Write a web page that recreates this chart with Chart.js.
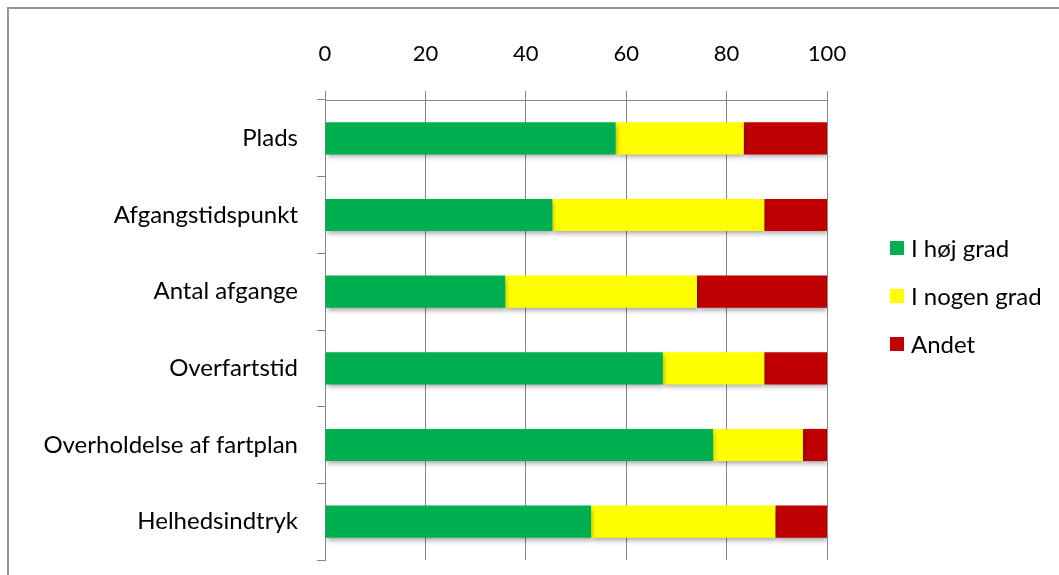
<!DOCTYPE html>
<html lang="da">
<head>
  <meta charset="UTF-8" />
  <title>Tilfredshed</title>
  <script src="https://cdn.jsdelivr.net/npm/chart.js"></script>
  <style>
    html, body {
      margin: 0;
      padding: 0;
      background: #ffffff;
      overflow: hidden;
    }
    #wrap {
      position: relative;
      width: 1059px;
      height: 575px;
    }
    #frame {
      position: absolute;
      left: 7px;
      top: 7px;
      width: 1100px;
      height: 600px;
      border-left: 2px solid #959595;
      border-top: 2px solid #959595;
    }
    #chart {
      position: absolute;
      left: 0;
      top: 0;
    }
  </style>
</head>
<body>
  <div id="wrap">
    <div id="frame"></div>
    <canvas id="chart" width="1059" height="575"></canvas>
  </div>
  <script>
    const categories = ['Plads', 'Afgangstidspunkt', 'Antal afgange', 'Overfartstid', 'Overholdelse af fartplan', 'Helhedsindtryk'];
    const hoejGrad = [57.9, 45.3, 35.9, 67.3, 77.3, 53.0];
    const nogenGrad = [25.5, 42.2, 38.2, 20.2, 17.9, 36.7];
    const andet = [16.6, 12.5, 25.9, 12.5, 4.8, 10.3];
    const seriesNames = ['I høj grad', 'I nogen grad', 'Andet'];
    const seriesColors = ['#00B050', '#FFFF00', '#C00000'];
    const xTicks = [0, 20, 40, 60, 80, 100];

    const FONT = "Lato, 'Open Sans', sans-serif";
    const GRID = '#878787';

    // soft drop shadow under the bars
    const barShadow = {
      id: 'barShadow',
      beforeDatasetsDraw(chart) {
        const ctx = chart.ctx;
        ctx.save();
        ctx.shadowColor = 'rgba(0,0,0,0.35)';
        ctx.shadowBlur = 5;
        ctx.shadowOffsetX = 1;
        ctx.shadowOffsetY = 3;
      },
      afterDatasetsDraw(chart) {
        chart.ctx.restore();
      }
    };

    // legend drawn at the right of the plot
    const sideLegend = {
      id: 'sideLegend',
      afterDraw(chart) {
        const ctx = chart.ctx;
        ctx.save();
        ctx.font = '24px ' + FONT;
        ctx.textBaseline = 'middle';
        ctx.textAlign = 'left';
        chart.data.datasets.forEach((ds, i) => {
          const y = 248 + i * 48;
          ctx.fillStyle = ds.backgroundColor;
          ctx.fillRect(890, y - 7, 14, 14);
          ctx.fillStyle = '#000000';
          ctx.fillText(ds.label, 911, y + 1);
        });
        ctx.restore();
      }
    };

    const datasets = [hoejGrad, nogenGrad, andet].map((vals, i) => ({
      label: seriesNames[i],
      data: vals,
      backgroundColor: seriesColors[i],
      borderWidth: 0,
      barPercentage: 0.42,
      categoryPercentage: 1
    }));

    new Chart(document.getElementById('chart'), {
      type: 'bar',
      data: { labels: categories, datasets: datasets },
      plugins: [barShadow, sideLegend],
      options: {
        indexAxis: 'y',
        responsive: false,
        animation: false,
        layout: { padding: { top: 0, right: 232, bottom: 15, left: 0 } },
        plugins: {
          legend: { display: false },
          tooltip: { enabled: false }
        },
        scales: {
          x: {
            position: 'top',
            stacked: true,
            min: 0,
            max: 100,
            afterBuildTicks(scale) {
              scale.ticks = xTicks.map(v => ({ value: v }));
            },
            afterFit(scale) { scale.height = 100; },
            grid: { color: GRID, lineWidth: 1, tickLength: 9, drawTicks: true },
            border: { color: GRID, width: 1 },
            ticks: {
              color: '#000000',
              padding: 24,
              font: { family: FONT, size: 22 }
            }
          },
          y: {
            stacked: true,
            afterFit(scale) {
              scale.width = 325;
              scale.paddingTop = 0;
              scale.paddingBottom = 0;
            },
            grid: { drawOnChartArea: false, offset: true, color: GRID, tickLength: 8 },
            border: { color: GRID, width: 1 },
            ticks: {
              color: '#000000',
              padding: 19,
              font: { family: FONT, size: 24 }
            }
          }
        }
      }
    });
  </script>
</body>
</html>
